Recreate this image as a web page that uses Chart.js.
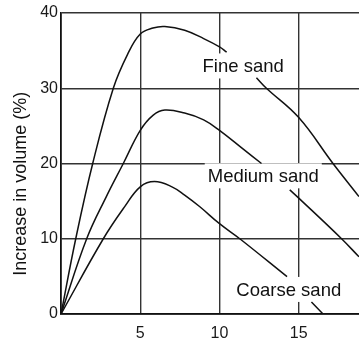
<!DOCTYPE html>
<html>
<head>
<meta charset="utf-8">
<script src="https://cdn.jsdelivr.net/npm/chart.js@4/dist/chart.umd.min.js"></script>
<style>
  html, body { margin: 0; padding: 0; background: #fff; }
  canvas { display: block; }
</style>
</head>
<body>
<canvas id="chart" width="359" height="343"></canvas>
<script>
// Tick values
const xTicks = [0, 5, 10, 15];
const yTicks = [0, 10, 20, 30, 40];

// Fine sand (two pieces, broken by its label)
const fineX1 = [0, 0.93, 2.0, 3.3, 4.2, 5, 5.8, 6.55, 7.8, 9, 10, 10.45];
const fineY1 = [0, 10, 20, 30, 34.5, 37.2, 38.0, 38.2, 37.7, 36.6, 35.5, 34.8];
const fineX2 = [12.33, 12.96, 15, 17.16, 18.8];
const fineY2 = [31.4, 30, 26.1, 20, 15.6];

// Medium sand
const mediumX1 = [0, 1.62, 2.86, 3.93, 5, 5.8, 6.55, 7.8, 9, 10, 11.5, 12.65];
const mediumY1 = [0, 10, 15.6, 20, 24.4, 26.4, 27.1, 26.7, 25.8, 24.4, 21.9, 20.0];
const mediumX2 = [14.43, 15, 17.7, 18.8];
const mediumY2 = [16.5, 15.4, 10, 7.6];

// Coarse sand
const coarseX1 = [0, 2.67, 4.03, 5, 5.9, 7, 7.8, 8.76, 10, 11.28, 14.26];
const coarseY1 = [0, 10, 14.3, 16.9, 17.6, 16.9, 15.8, 14.25, 12.0, 10, 4.96];
const coarseX2 = [15.8, 16.53];
const coarseY2 = [1.6, 0];

// Curve labels (centre x, baseline y in data units)
const curveLabels = ['Fine sand', 'Medium sand', 'Coarse sand'];
const curveLabelX = [11.49, 12.76, 14.37];
const curveLabelY = [32.1, 17.5, 2.4];

const yTitle = 'Increase in volume (%)';

const FONT = "'Liberation Sans', Arial, Helvetica, sans-serif";
const INK = '#111';
const GRID = '#333';

function pts(xs, ys) {
  return xs.map((x, i) => ({ x: x, y: ys[i] }));
}

function line(xs, ys) {
  return {
    data: pts(xs, ys),
    borderColor: INK,
    borderWidth: 1.5,
    pointRadius: 0,
    fill: false,
    tension: 0.4
  };
}

// white boxes under labels (cut the grid), then the text and axis title
const labelPlugin = {
  id: 'curveLabels',
  beforeDatasetsDraw(chart) {
    const ctx = chart.ctx;
    const xs = chart.scales.x, ys = chart.scales.y;
    ctx.save();
    ctx.font = '18.5px ' + FONT;
    ctx.fillStyle = '#fff';
    curveLabels.forEach((t, i) => {
      const w = ctx.measureText(t).width;
      const cx = xs.getPixelForValue(curveLabelX[i]);
      const by = ys.getPixelForValue(curveLabelY[i]);
      ctx.fillRect(cx - w / 2 - 3, by - 19, w + 6, 25);
    });
    ctx.restore();
  },
  afterDatasetsDraw(chart) {
    const ctx = chart.ctx;
    const xs = chart.scales.x, ys = chart.scales.y;
    ctx.save();
    ctx.fillStyle = '#111';
    ctx.font = '18.5px ' + FONT;
    ctx.textAlign = 'center';
    ctx.textBaseline = 'alphabetic';
    curveLabels.forEach((t, i) => {
      ctx.fillText(t, xs.getPixelForValue(curveLabelX[i]), ys.getPixelForValue(curveLabelY[i]));
    });
    // y axis title
    ctx.font = '18px ' + FONT;
    ctx.textBaseline = 'middle';
    ctx.translate(chart.chartArea.left - 39.5, ys.getPixelForValue(17.3));
    ctx.rotate(-Math.PI / 2);
    ctx.fillText(yTitle, 0, 0);
    ctx.restore();
  }
};

new Chart(document.getElementById('chart').getContext('2d'), {
  type: 'line',
  data: {
    datasets: [
      line(fineX1, fineY1), line(fineX2, fineY2),
      line(mediumX1, mediumY1), line(mediumX2, mediumY2),
      line(coarseX1, coarseY1), line(coarseX2, coarseY2)
    ]
  },
  options: {
    responsive: false,
    animation: false,
    devicePixelRatio: 1,
    layout: { padding: { top: 13, right: 0, bottom: 0, left: 0 } },
    plugins: { legend: { display: false }, tooltip: { enabled: false } },
    scales: {
      x: {
        type: 'linear',
        min: 0,
        max: 18.8,
        afterBuildTicks: s => { s.ticks = xTicks.map(v => ({ value: v })); },
        afterFit: s => { s.height = 29; },
        grid: { color: GRID, lineWidth: 1.4, drawTicks: false },
        border: { color: INK, width: 1.7 },
        ticks: {
          padding: 10,
          color: '#1a1a1a',
          font: { family: FONT, size: 16 },
          maxRotation: 0,
          autoSkip: false,
          callback: v => (v === 0 ? '' : String(v))
        }
      },
      y: {
        min: 0,
        max: 40,
        afterBuildTicks: s => { s.ticks = yTicks.map(v => ({ value: v })); },
        afterFit: s => { s.width = 61; },
        grid: { color: GRID, lineWidth: 1.4, drawTicks: false },
        border: { color: INK, width: 1.7 },
        ticks: {
          padding: 3,
          color: '#1a1a1a',
          font: { family: FONT, size: 16 }
        }
      }
    }
  },
  plugins: [labelPlugin]
});
</script>
</body>
</html>
